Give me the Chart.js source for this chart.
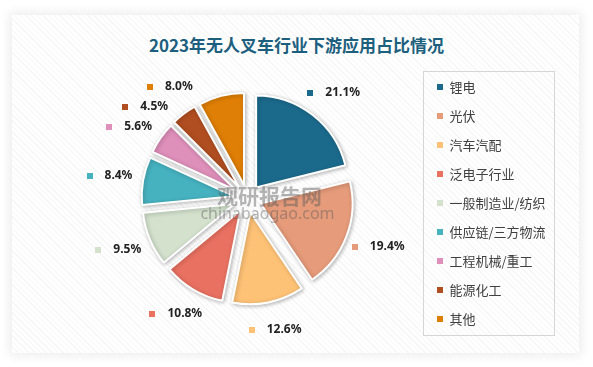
<!DOCTYPE html>
<html>
<head>
<meta charset="utf-8">
<script src="https://cdn.jsdelivr.net/npm/chart.js@4.4.1/dist/chart.umd.min.js"></script>
<style>
html,body{margin:0;padding:0;background:#fff;width:593px;height:367px;overflow:hidden;}
#card{position:absolute;left:12px;top:15px;width:567px;height:338px;background-color:#fff;
  background-image:repeating-linear-gradient(45deg, rgba(0,0,0,0.035) 0px, rgba(0,0,0,0.035) 1px, transparent 1px, transparent 4px);
  box-shadow:0 0 10px 3px rgba(0,0,0,0.07);}
#title{position:absolute;left:0;top:32px;width:593px;text-align:center;line-height:20px;
  font:bold 17px "Noto Sans CJK SC", sans-serif;color:#1d5f7e;}
canvas{position:absolute;left:0;top:0;}
</style>
</head>
<body>
<div id="card"></div>
<div id="title">2023年无人叉车行业下游应用占比情况</div>
<canvas id="c" width="593" height="367"></canvas>
<script>
const categories = ['锂电','光伏','汽车汽配','泛电子行业','一般制造业/纺织','供应链/三方物流','工程机械/重工','能源化工','其他'];
const shares = [21.1, 19.4, 12.6, 10.8, 9.5, 8.4, 5.6, 4.5, 8.0];
const colors = ['#1b6a8c','#e69b7a','#fec276','#e97161','#d3e1cd','#46b2c0','#de8fba','#b14e21','#e07f05'];

const EXPLODE = 14;
const RADIUS = 92;
const LEG_PAD = 16;
const LEG_TITLE_H = 9;

const explodePlugin = {
  id: 'explode',
  afterDatasetUpdate(chart, args) {
    args.meta.data.forEach(arc => {
      const mid = (arc.startAngle + arc.endAngle) / 2;
      arc.x += EXPLODE * Math.cos(mid);
      arc.y += EXPLODE * Math.sin(mid);
    });
  },
  beforeDatasetsDraw(chart) {
    const ctx = chart.ctx;
    ctx.save();
    ctx.shadowColor = 'rgba(0,0,0,0.28)';
    ctx.shadowBlur = 4;
    ctx.shadowOffsetX = 1;
    ctx.shadowOffsetY = 1;
  },
  afterDatasetsDraw(chart) { chart.ctx.restore(); }
};

const decorPlugin = {
  id: 'decor',
  afterDraw(chart) {
    const ctx = chart.ctx, ca = chart.chartArea;
    const cx = (ca.left + ca.right) / 2, cy = (ca.top + ca.bottom) / 2;

    // watermark
    ctx.save();
    ctx.textAlign = 'center';
    ctx.textBaseline = 'middle';
    ctx.fillStyle = 'rgba(90,90,90,0.45)';
    ctx.font = 'bold 21px "Noto Sans CJK SC", sans-serif';
    ctx.fillText('观研报告网', cx + 22, cy - 2);
    ctx.font = '16px "Noto Sans", sans-serif';
    ctx.fillText('chinabaogao.com', cx + 20, cy + 16);
    ctx.restore();

    // data labels
    const arcs = chart.getDatasetMeta(0).data;
    ctx.save();
    ctx.font = 'bold 12px "Noto Sans", sans-serif';
    const RX = 140, RY = 134, MINY = ca.top + 34, GAP = 20;
    const items = arcs.map((a, i) => {
      const mid = (a.startAngle + a.endAngle) / 2;
      return {i, x: cx + RX * Math.cos(mid), y: cy + RY * Math.sin(mid), text: shares[i].toFixed(1) + '%'};
    });
    items.forEach(it => { it.left = it.x < cx; });
    [true, false].forEach(side => {
      const s = items.filter(it => it.left === side).sort((a, b) => a.y - b.y);
      let prev = -Infinity;
      s.forEach(it => {
        const y = Math.max(it.y, MINY, prev + GAP);
        if (y !== it.y) {
          const dy = (y - cy) / RY;
          const k = Math.sqrt(Math.max(0, 1 - dy * dy));
          it.x = cx + (side ? -1 : 1) * RX * k;
          it.y = y;
        }
        prev = it.y;
      });
    });
    items.forEach(it => {
      const tw = ctx.measureText(it.text).width;
      const sq = it.x - (12 + tw) / 2;
      ctx.fillStyle = colors[it.i];
      ctx.fillRect(Math.round(sq - 3), Math.round(it.y - 3), 6, 6);
      ctx.fillStyle = '#222';
      ctx.textBaseline = 'middle';
      ctx.textAlign = 'left';
      ctx.fillText(it.text, sq + 15, it.y);
    });
    ctx.restore();

    // legend border
    const lg = chart.legend;
    if (lg && lg.columnSizes && lg.columnSizes.length) {
      const colH = lg.columnSizes[0].height;
      const cursorY = (lg.top + LEG_TITLE_H + LEG_PAD + lg.bottom - colH) / 2;
      const firstC = cursorY + 6.5;
      const lastC = firstC + (categories.length - 1) * (13 + LEG_PAD);
      ctx.save();
      ctx.strokeStyle = '#d6d6d6';
      ctx.lineWidth = 1;
      ctx.strokeRect(Math.round(lg.left + 2) + 0.5, Math.round(firstC - 16) + 0.5,
                     Math.round(lg.right - lg.left - 4), Math.round(lastC - firstC + 32));
      ctx.restore();
    }
  }
};

const chart = new Chart(document.getElementById('c'), {
  type: 'pie',
  data: {
    labels: categories,
    datasets: [{
      data: shares,
      backgroundColor: colors,
      borderColor: '#ffffff',
      borderWidth: 2,
      offset: 0
    }]
  },
  options: {
    responsive: false,
    animation: false,
    devicePixelRatio: 1,
    events: [],
    radius: RADIUS,
    layout: { padding: { left: 74, right: 38, top: 53, bottom: 23 } },
    plugins: {
      title: { display: false },
      tooltip: { enabled: false },
      legend: {
        display: true,
        position: 'right',
        fullSize: false,
        align: 'center',
        title: { display: true, text: '', font: { size: 1 }, padding: { top: 0, bottom: LEG_TITLE_H - 1.2 } },
        labels: {
          boxWidth: 6,
          boxHeight: 6,
          padding: LEG_PAD,
          color: '#404040',
          font: { family: '"Noto Sans CJK SC", sans-serif', size: 13 },
          generateLabels: () => categories.map((t, i) => ({
            text: t, fillStyle: colors[i], strokeStyle: colors[i], lineWidth: 0,
            hidden: false, index: i, fontColor: '#404040'
          }))
        }
      }
    }
  },
  plugins: [explodePlugin, decorPlugin]
});

// place the legend so that its left edge sits at x=421 and the pie centre at x=247.5
const legW = chart.legend.width;
chart.options.layout.padding.right = 593 - 421 - legW;
chart.options.layout.padding.left = 2 * 247.5 - 421;
chart.update();
</script>
</body>
</html>
